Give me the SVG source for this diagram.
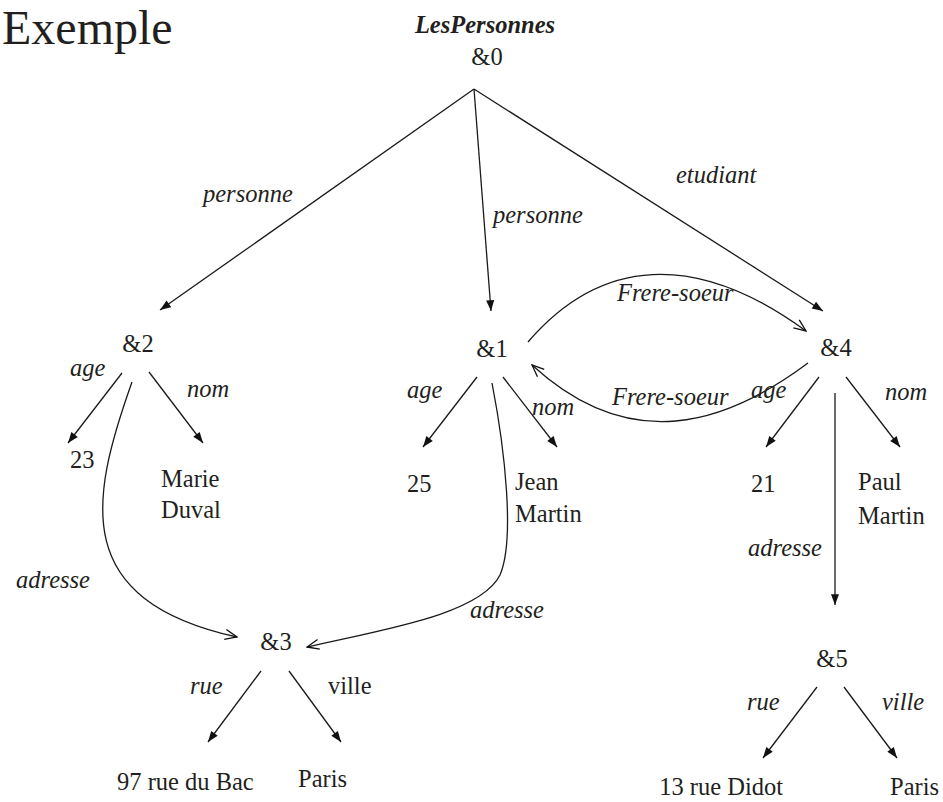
<svg xmlns="http://www.w3.org/2000/svg" width="943" height="802" viewBox="0 0 943 802">
  <style>
    text { font-family: "Liberation Serif", "Times New Roman", serif; fill: #231f20; font-size: 24.5px; }
    .title { font-size: 48px; }
    .lbl { font-style: italic; }
    .root { font-style: italic; font-weight: bold; }
    .edge { fill: none; stroke: #1a1a1a; stroke-width: 1.3; }
    .solid { marker-end: url(#arrowSolid); }
    .open { marker-end: url(#arrowOpen); }
  </style>
  <defs>
    <marker id="arrowSolid" viewBox="0 0 12 10" refX="12" refY="5" markerWidth="12" markerHeight="9" markerUnits="userSpaceOnUse" orient="auto">
      <path d="M0,0.5 L12,5 L0,9.5 z" fill="#111"/>
    </marker>
    <marker id="arrowOpen" viewBox="0 0 14 12" refX="13" refY="6" markerWidth="14" markerHeight="12" markerUnits="userSpaceOnUse" orient="auto">
      <path d="M1,1 L13,6 L1,11" fill="none" stroke="#111" stroke-width="1.3"/>
    </marker>
  </defs>

  <rect width="943" height="802" fill="#ffffff"/>

  <text class="title" x="2" y="44">Exemple</text>

  <!-- connectors -->
  <g id="connectors">
    <path class="edge solid" d="M474,89 L160,310"/>
    <path class="edge solid" d="M474,89 L491,311"/>
    <path class="edge solid" d="M474,89 L823,311"/>

    <path class="edge solid" d="M122,373 L68,443"/>
    <path class="edge solid" d="M149,372 L203,443"/>
    <path class="edge open" d="M132,382 C90,500 70,600 237,637"/>

    <path class="edge solid" d="M477,377 L423,447"/>
    <path class="edge solid" d="M503,377 L557,447"/>
    <path class="edge open" d="M492,383 C505,450 515,540 500,575 C480,615 380,630 307,647"/>

    <path class="edge open" d="M528,342 C600,258 695,250 806,331"/>
    <path class="edge open" d="M808,363 C725,425 630,455 532,365"/>

    <path class="edge solid" d="M819,377 L766,447"/>
    <path class="edge solid" d="M846,377 L900,447"/>
    <path class="edge solid" d="M835,393 L835,605"/>

    <path class="edge solid" d="M261,671 L208,742"/>
    <path class="edge solid" d="M289,671 L341,742"/>
    <path class="edge solid" d="M817,687 L763,758"/>
    <path class="edge solid" d="M844,687 L897,758"/>
  </g>

  <!-- edge labels -->
  <g id="labels">
    <text class="lbl" x="203" y="202">personne</text>
    <text class="lbl" x="493" y="223">personne</text>
    <text class="lbl" x="676" y="183">etudiant</text>
    <text class="lbl" x="70" y="376">age</text>
    <text class="lbl" x="187" y="397">nom</text>
    <text class="lbl" x="16" y="588">adresse</text>
    <text class="lbl" x="407" y="398">age</text>
    <text class="lbl" x="532" y="415">nom</text>
    <text class="lbl" x="470" y="618">adresse</text>
    <text class="lbl" x="617" y="301">Frere-soeur</text>
    <text class="lbl" x="612" y="405">Frere-soeur</text>
    <text class="lbl" x="751" y="398">age</text>
    <text class="lbl" x="885" y="400">nom</text>
    <text class="lbl" x="748" y="556">adresse</text>
    <text class="lbl" x="190" y="694">rue</text>
    <text x="328" y="694">ville</text>
    <text class="lbl" x="747" y="710">rue</text>
    <text class="lbl" x="882" y="710">ville</text>
  </g>

  <!-- objects -->
  <g id="n0">
    <text class="root" x="485" y="33" text-anchor="middle">LesPersonnes</text>
    <text x="487" y="65" text-anchor="middle">&amp;0</text>
  </g>
  <g id="n2"><text x="138" y="352" text-anchor="middle">&amp;2</text></g>
  <g id="n1"><text x="492" y="357" text-anchor="middle">&amp;1</text></g>
  <g id="n4"><text x="836" y="356" text-anchor="middle">&amp;4</text></g>
  <g id="n3"><text x="276" y="650" text-anchor="middle">&amp;3</text></g>
  <g id="n5"><text x="832" y="667" text-anchor="middle">&amp;5</text></g>

  <!-- atomic values -->
  <g id="v23"><text x="70" y="468">23</text></g>
  <g id="vMarie"><text x="161" y="487">Marie</text><text x="161" y="518">Duval</text></g>
  <g id="v25"><text x="407" y="492">25</text></g>
  <g id="vJean"><text x="515" y="490">Jean</text><text x="515" y="522">Martin</text></g>
  <g id="v21"><text x="751" y="492">21</text></g>
  <g id="vPaul"><text x="858" y="490">Paul</text><text x="858" y="524">Martin</text></g>
  <g id="vBac"><text x="117" y="790">97 rue du Bac</text></g>
  <g id="vParis1"><text x="298" y="787">Paris</text></g>
  <g id="vDidot"><text x="783" y="795" text-anchor="end">13 rue Didot</text></g>
  <g id="vParis2"><text x="890" y="795">Paris</text></g>
</svg>
